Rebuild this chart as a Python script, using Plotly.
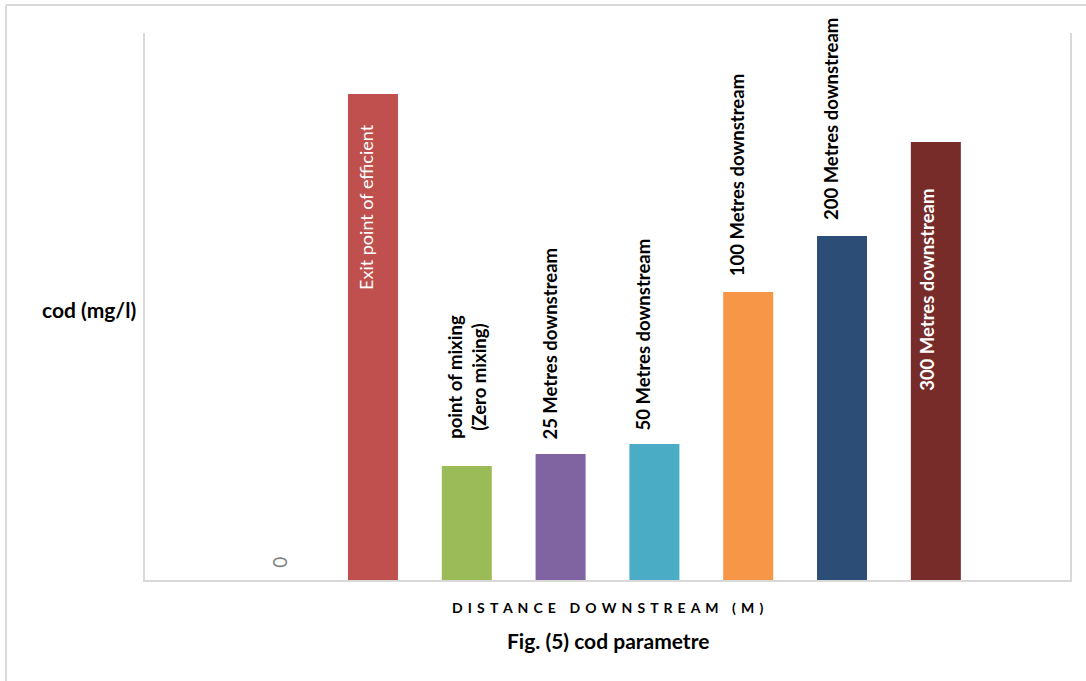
import plotly.graph_objects as go

# ---- data ----
categories = ["Origin", "Exit point of efficient", "point of mixing (Zero mixing)",
              "25 Metres downstream", "50 Metres downstream", "100 Metres downstream",
              "200 Metres downstream", "300 Metres downstream"]
cod_values = [0, 243, 57, 63, 68, 144, 172, 219]
bar_labels = ["0", "Exit point of efficient", "point of mixing<br>(Zero mixing)",
              "25 Metres downstream", "50 Metres downstream", "100 Metres downstream",
              "200 Metres downstream", "300 Metres downstream"]
bar_colors = ["#C0504D", "#C0504D", "#9BBB59", "#8064A2", "#4BACC6",
              "#F79646", "#2C4D75", "#772C2A"]

# ---- label styling (not data) ----
label_inside = [False, True, False, False, False, False, False, True]
label_bold = [False, False, True, True, True, True, True, True]
label_color = ["#808080", "white", "black", "black", "black", "black", "black", "white"]
label_xshift = [0, -7, 0, -11, -11, -11, -11, -9]
label_yshift = [10, -28, 25, 12, 12, 14, 14, -45]
label_size = [19, 18, 18.5, 18.5, 18.5, 18.5, 18.5, 18.5]

FONT = "Lato"

fig = go.Figure()
fig.add_trace(go.Bar(
    x=categories, y=cod_values,
    marker=dict(color=bar_colors, line=dict(width=0)),
    width=0.533, showlegend=False, hoverinfo="x+y",
))

for i, (cat, val, lab) in enumerate(zip(categories, cod_values, bar_labels)):
    txt = f"<b>{lab}</b>" if label_bold[i] else lab
    fig.add_annotation(
        x=cat, y=val, xref="x", yref="y", text=txt, textangle=-90,
        showarrow=False, xanchor="center",
        yanchor="top" if label_inside[i] else "bottom",
        xshift=label_xshift[i], yshift=label_yshift[i],
        font=dict(family=FONT, size=label_size[i], color=label_color[i]),
        align="center",
    )

# axis titles / caption
fig.add_annotation(x=-0.0605, y=0.495, xref="paper", yref="paper",
                   text="<b>cod (mg/l)</b>", showarrow=False, xanchor="center",
                   yanchor="middle", font=dict(family=FONT, size=21, color="black"))
ls = "\u00a0\u2009"
ws = "\u00a0\u00a0\u00a0\u00a0"
xtitle = ws.join(ls.join(w) for w in ["DISTANCE", "DOWNSTREAM", "(M)"])
fig.add_annotation(x=0.5, y=-0.0494, xref="paper", yref="paper",
                   text=f"<b>{xtitle}</b>", showarrow=False, xanchor="center",
                   yanchor="middle", font=dict(family=FONT, size=14, color="black"))
fig.add_annotation(x=0.5, y=-0.1097, xref="paper", yref="paper",
                   text="<b>Fig. (5) cod parametre</b>", showarrow=False,
                   xanchor="center", yanchor="middle",
                   font=dict(family=FONT, size=21, color="black"))

# outer frame (top and left edges visible)
frame = "#D9D9D9"
fig.add_shape(type="line", xref="paper", yref="paper", x0=-0.1503, x1=1.02,
              y0=1.0512, y1=1.0512, line=dict(color=frame, width=2))
fig.add_shape(type="line", xref="paper", yref="paper", x0=-0.1503, x1=-0.1503,
              y0=1.0512, y1=-0.19, line=dict(color=frame, width=2))

fig.update_layout(
    width=1086, height=681,
    margin=dict(l=145, r=16, t=33, b=101),
    paper_bgcolor="white", plot_bgcolor="white",
    bargap=0.47,
    font=dict(family=FONT),
    xaxis=dict(type="category", categoryarray=categories, range=[-1.43, 8.43],
               showticklabels=False, showgrid=False, zeroline=False,
               showline=True, linecolor=frame, linewidth=2, ticks="", fixedrange=True),
    yaxis=dict(range=[0, 273.5], showticklabels=False, showgrid=False, zeroline=False,
               showline=True, mirror=True, linecolor=frame, linewidth=2, ticks="",
               fixedrange=True),
)

fig.write_html("out.html")
